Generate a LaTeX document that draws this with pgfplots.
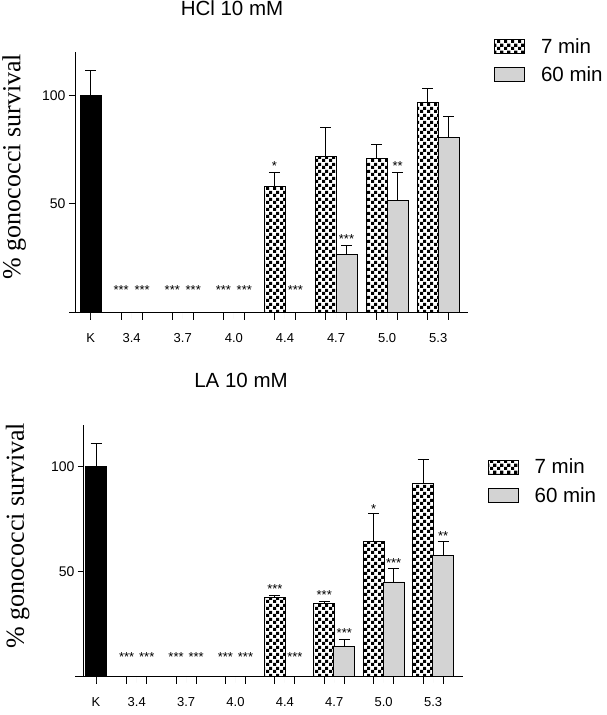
\documentclass[border=0pt]{standalone}
\usepackage{fontspec}
\setmainfont{Liberation Sans}
\newfontfamily\seriff{Liberation Serif}
\usepackage{pgfplots}
\pgfplotsset{compat=1.18}
\usetikzlibrary{patterns}
\pgfdeclarepatternformonly{mycheck}{\pgfpointorigin}{\pgfqpoint{7pt}{7pt}}{\pgfqpoint{7pt}{7pt}}{%
  \pgfpathrectangle{\pgfpointorigin}{\pgfqpoint{3.5pt}{3.5pt}}%
  \pgfpathrectangle{\pgfqpoint{3.5pt}{3.5pt}}{\pgfqpoint{3.5pt}{3.5pt}}%
  \pgfusepath{fill}}
\definecolor{lgray}{RGB}{211,211,211}
\pgfplotsset{
  mystyle/.style={
    scale only axis, ymin=0, ymax=120, ytick={50,100},
    axis lines=left, axis line style={-, line width=1pt, black},
    tick align=outside,
    major tick length=6pt, minor tick length=7pt,
    every major x tick/.style={draw=none},
    every minor x tick/.style={line width=1pt, black},
    every major y tick/.style={line width=1pt, black},
    /pgf/number format/assume math mode=true,
    yticklabel style={font=\fontsize{14}{16}\selectfont},
    xticklabel style={font=\fontsize{13}{15}\selectfont, yshift=-11pt},
    ylabel={\% gonococci survival},
    legend image code/.code={\draw[##1] (0pt,-7pt) rectangle (30pt,7pt);},
    legend style={draw=none, fill=none, font=\fontsize{20.5}{24}\selectfont, inner sep=0pt,
      row sep=8pt, anchor=north west, /tikz/every odd column/.style={column sep=14pt}},
    legend cell align=left,
    error bars/y dir=plus, error bars/y explicit,
    error bars/error bar style={line width=1pt, black},
    error bars/error mark options={rotate=90, mark size=5.5pt, line width=1pt, black},
  },
  stars/.style={draw=none, mark=none, forget plot, nodes near coords, point meta=explicit symbolic,
    nodes near coords style={anchor=center, font=\fontsize{13}{15}\selectfont, inner sep=0pt, yshift=-2.8pt}},
  check/.style={ybar, bar width=#1, draw=black, line width=0.9pt, pattern=mycheck, pattern color=black},
  gray/.style={ybar, bar width=#1, draw=black, line width=0.9pt, fill=lgray},
}
\begin{document}
\begin{tikzpicture}
\useasboundingbox (0,0) rectangle (607pt,715pt);
% ---------------- top: HCl ----------------
\begin{axis}[mystyle,
  at={(75pt,402.3pt)}, anchor=south west,
  width=393pt, height=261pt,
  xmin=-0.1096, xmax=7.583,
  xtick={0.198,1,2,3,4,5,6,7},
  xticklabels={K,3.4,3.7,4.0,4.4,4.7,5.0,5.3},
  minor xtick={0.198,0.795,1.205,1.795,2.205,2.795,3.205,3.795,4.205,4.795,5.205,5.795,6.205,6.795,7.205},
  title={HCl 10 mM},
  title style={at={(0.3995,1)}, anchor=base, yshift=30pt, font=\fontsize{20.5}{24}\selectfont},
  ylabel style={font=\seriff\fontsize{26}{30}\selectfont, at={(-0.155,0.56)}, anchor=center},
  legend style={at={(1.066,1.06)}},
  after end axis/.code={\draw[line width=1pt, black] (rel axis cs:0,0) -- ++(-6pt,0);},
]
\addplot[ybar, bar width=0.41, bar shift=0pt, draw=black, fill=black, forget plot]
  coordinates {(0.198,100) +- (0,11.2)};
\addplot[check=0.41, bar shift=-0.205]
  coordinates {(4,58.2) +- (0,6.4) (5,71.8) +- (0,13.3) (6,71.0) +- (0,6.5) (7,96.8) +- (0,6.4)};
\addplot[gray=0.41, bar shift=0.205]
  coordinates {(5,26.8) +- (0,4.0) (6,51.5) +- (0,13.1) (7,80.7) +- (0,9.5)};
\addplot[stars] coordinates {
  (0.795,11.5)[***] (1.205,11.5)[***] (1.795,11.5)[***] (2.205,11.5)[***]
  (2.795,11.5)[***] (3.205,11.5)[***] (4.205,11.5)[***]
  (3.795,68.7)[*] (5.205,35.3)[***] (6.205,68.5)[**]};
\legend{7 min, 60 min}
\end{axis}
% ---------------- bottom: LA ----------------
\begin{axis}[mystyle,
  at={(84pt,38.3pt)}, anchor=south west,
  width=378.7pt, height=252pt,
  xmin=-0.067, xmax=7.6,
  xtick={0.176,1,2,3,4,5,6,7},
  xticklabels={K,3.4,3.7,4.0,4.4,4.7,5.0,5.3},
  minor xtick={0.176,0.797,1.203,1.797,2.203,2.797,3.203,3.797,4.203,4.797,5.203,5.797,6.203,6.797,7.203},
  title={LA 10 mM},
  title style={at={(0.4146,1)}, anchor=base, yshift=31.4pt, font=\fontsize{20.5}{24}\selectfont},
  ylabel style={font=\seriff\fontsize{26}{30}\selectfont, at={(-0.175,0.56)}, anchor=center},
  legend style={at={(1.0655,0.873)}},
  after end axis/.code={\draw[line width=1pt, black] (rel axis cs:0,0) -- ++(-9pt,0);},
]
\addplot[ybar, bar width=0.42, bar shift=0pt, draw=black, fill=black, forget plot]
  coordinates {(0.176,100) +- (0,11.1)};
\addplot[check=0.42, bar shift=-0.203]
  coordinates {(4,37.6) +- (0,1.1) (5,34.9) +- (0,1.1) (6,64.6) +- (0,12.9) (7,92.1) +- (0,11.4)};
\addplot[gray=0.42, bar shift=0.203]
  coordinates {(5,14.6) +- (0,3.2) (6,45.1) +- (0,6.5) (7,57.9) +- (0,6.4)};
\addplot[stars] coordinates {
  (0.797,10.8)[***] (1.203,10.8)[***] (1.797,10.8)[***] (2.203,10.8)[***]
  (2.797,10.8)[***] (3.203,10.8)[***] (4.203,10.8)[***]
  (3.797,42.9)[***] (4.797,40)[***] (5.203,22.2)[***]
  (5.797,81.3)[*] (6.203,55.6)[***] (7.203,68.3)[**]};
\legend{7 min, 60 min}
\end{axis}
\end{tikzpicture}
\end{document}
